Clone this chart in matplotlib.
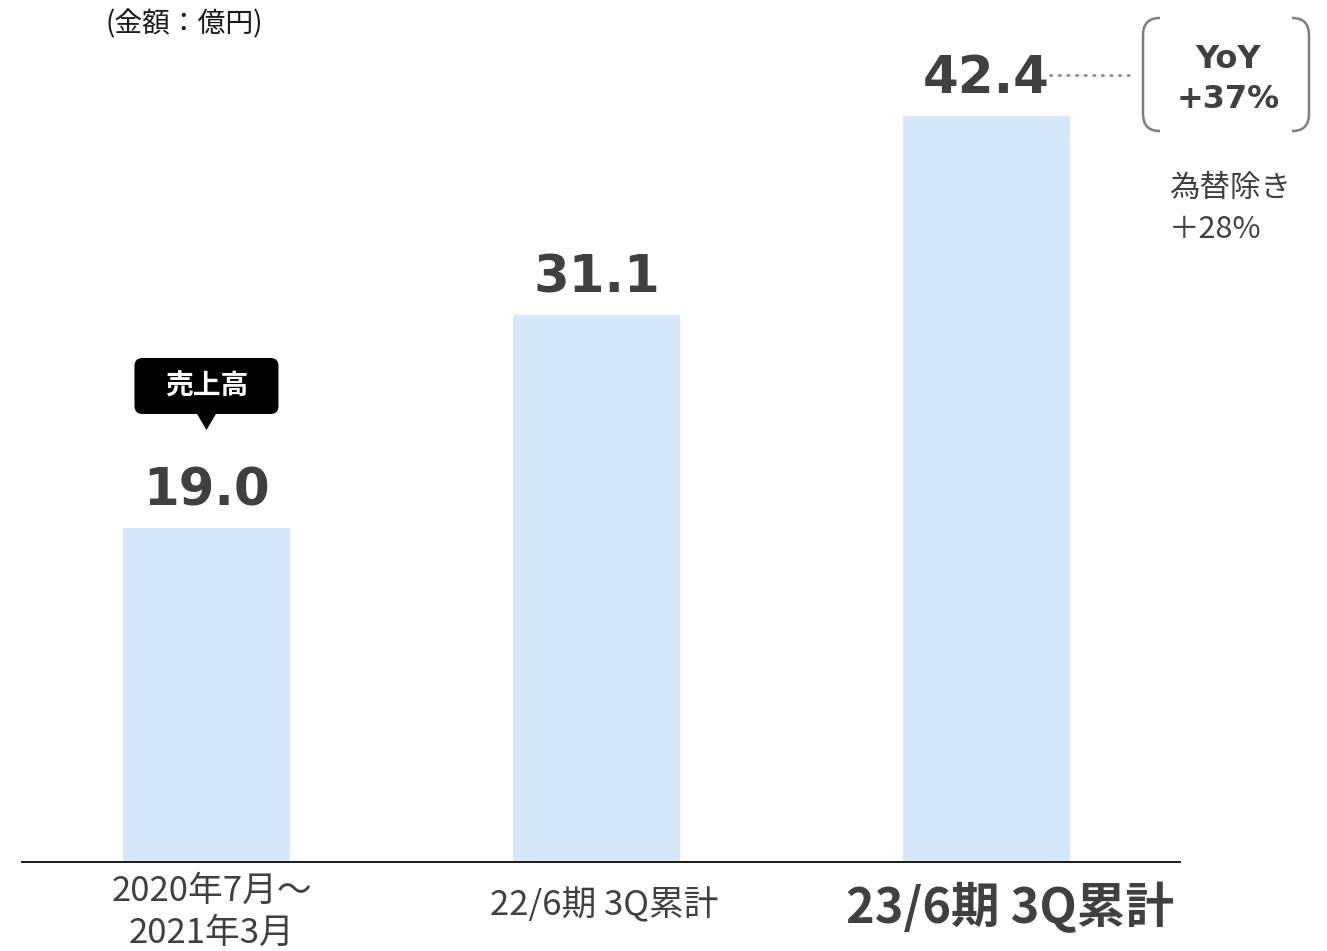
import numpy as np
import matplotlib.pyplot as plt
from matplotlib.patches import FancyBboxPatch, Polygon, PathPatch
from matplotlib.path import Path
from matplotlib.transforms import IdentityTransform, blended_transform_factory

plt.rcParams['font.family'] = ['Noto Sans CJK JP', 'DejaVu Sans']

# 売上高（億円）
periods = ['2020年7月～\n2021年3月', '22/6期 3Q累計', '23/6期 3Q累計']
sales = [19.0, 31.1, 42.4]
yoy_lines = ['YoY', '+37%']
fx_lines = ['為替除き', '＋28%']

W, H = 1327, 951
GRAY = '#404040'
fig = plt.figure(figsize=(W / 100, H / 100), dpi=100)
ax = fig.add_axes([22 / W, 89 / H, 1158 / W, 845 / H])

x = np.arange(len(sales))
ax.bar(x, sales, width=0.43, color='#d5e8fb', zorder=2)
ax.set_xlim(-0.473, 2.496)
ax.set_ylim(0, 48)
for s in ['top', 'right', 'left']:
    ax.spines[s].set_visible(False)
ax.spines['bottom'].set_color('#1a1a1a')
ax.spines['bottom'].set_linewidth(1.4)
ax.set_yticks([])
ax.set_xticks([])


def px(x, y):
    # 左上原点のピクセル座標 -> 表示座標
    return (x, H - y)


ident = IdentityTransform()
xlab_tr = blended_transform_factory(ax.transData, ident)

# 期間ラベル（最後の期だけ太字で大きく）
lab_y = [912, 906, 907]
lab_dx = [0.013, 0.02, 0.06]
lab_size = [25, 25, 35]
lab_weight = ['normal', 'normal', 'bold']
for i, lab in enumerate(periods):
    ax.text(i + lab_dx[i], H - lab_y[i], lab, transform=xlab_tr, ha='center',
            va='center', fontsize=lab_size[i], fontweight=lab_weight[i],
            color=GRAY, linespacing=1.25, clip_on=False)

# 値ラベル
for i, v in zip(x, sales):
    ax.annotate(f'{v:.1f}', (i, v), xytext=(0, 16), textcoords='offset points',
                ha='center', va='baseline', fontsize=37, fontweight='bold',
                color=GRAY, family='DejaVu Sans')

fig.text(*px(105, 24), '(金額：億円)', transform=ident, fontsize=20,
         color='#1a1a1a', va='center', ha='left')

# 売上高の吹き出し
cx, _ = ax.transData.transform((0, sales[0]))
box = FancyBboxPatch(px(cx - 72, 414), 144, 56, boxstyle='round,pad=0,rounding_size=8',
                     fc='black', ec='none', transform=ident)
fig.patches.append(box)
tri = Polygon([px(cx - 10, 413), px(cx + 10, 413), px(cx, 430)], closed=True,
              fc='black', ec='none', transform=ident)
fig.patches.append(tri)
fig.text(*px(cx, 387), '売上高', transform=ident, fontsize=20, fontweight='bold',
         color='white', ha='center', va='center')

# YoY 点線と括弧
fig.lines.append(plt.Line2D([1050, 1135], [H - 75, H - 75], transform=ident,
                            color='#8c8c8c', lw=2, ls=(0, (0.5, 2.6)),
                            dash_capstyle='round'))
codes = [Path.MOVETO, Path.CURVE4, Path.CURVE4, Path.CURVE4, Path.LINETO,
         Path.CURVE4, Path.CURVE4, Path.CURVE4]
for sgn, xe in [(1, 1143), (-1, 1309)]:
    pts = [(xe + sgn * 17, 18), (xe + sgn * 5, 18), (xe, 24), (xe, 36),
           (xe, 113), (xe, 125), (xe + sgn * 5, 131), (xe + sgn * 17, 131)]
    path = Path([px(*p) for p in pts], codes)
    fig.patches.append(PathPatch(path, fc='none', ec='#7f7f7f', lw=1.8,
                                 transform=ident))
for txt, yy in zip(yoy_lines, [60, 99]):
    fig.text(*px(1228, yy), txt, transform=ident, fontsize=23, fontweight='bold',
             color=GRAY, ha='center', va='center', family='DejaVu Sans')
for txt, yy in zip(fx_lines, [188, 229]):
    fig.text(*px(1169, yy), txt, transform=ident, fontsize=22,
             color=GRAY, ha='left', va='center')

fig.savefig('out.png', dpi=100)
